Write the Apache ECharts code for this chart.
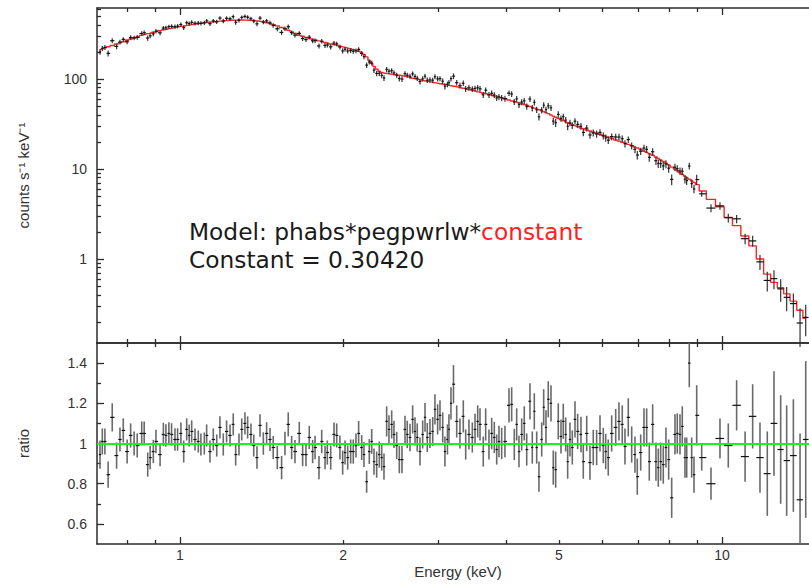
<!DOCTYPE html>
<html>
<head>
<meta charset="utf-8">
<title>phabs*pegpwrlw*constant fit and ratio</title>
<script src="https://cdn.jsdelivr.net/npm/echarts@6/dist/echarts.min.js"></script>
<style>
html, body { margin: 0; padding: 0; background: #fff; }
#chart { width: 809px; height: 586px; }
</style>
</head>
<body>
<div id="chart"></div>
<script>
// bin centres, keV
var energy = [
  0.712, 0.719, 0.727, 0.737, 0.750, 0.764, 0.775, 0.786,
  0.799, 0.811, 0.823, 0.834, 0.850, 0.859, 0.872, 0.881,
  0.893, 0.903, 0.919, 0.932, 0.942, 0.954, 0.965, 0.979,
  0.990, 1.004, 1.016, 1.029, 1.040, 1.051, 1.066, 1.081,
  1.093, 1.109, 1.120, 1.136, 1.152, 1.169, 1.185, 1.202,
  1.219, 1.237, 1.254, 1.267, 1.285, 1.300, 1.318, 1.333,
  1.352, 1.368, 1.387, 1.405, 1.425, 1.445, 1.466, 1.486,
  1.512, 1.540, 1.562, 1.584, 1.607, 1.630, 1.660, 1.684,
  1.708, 1.732, 1.757, 1.775, 1.805, 1.826, 1.852, 1.870,
  1.897, 1.924, 1.946, 1.973, 1.996, 2.016, 2.039, 2.065,
  2.088, 2.112, 2.136, 2.164, 2.185, 2.210, 2.235, 2.258,
  2.280, 2.306, 2.332, 2.356, 2.379, 2.406, 2.430, 2.458,
  2.482, 2.511, 2.539, 2.568, 2.601, 2.626, 2.657, 2.687,
  2.714, 2.740, 2.772, 2.804, 2.832, 2.859, 2.892, 2.926,
  2.954, 2.988, 3.018, 3.053, 3.082, 3.115, 3.135, 3.162,
  3.196,
  3.240, 3.285, 3.332, 3.366, 3.413, 3.462, 3.502, 3.542,
  3.577, 3.627, 3.664, 3.716, 3.759, 3.801, 3.840, 3.877,
  3.922, 3.977, 4.046, 4.092, 4.138, 4.180, 4.221, 4.270,
  4.317, 4.362, 4.423, 4.467, 4.505, 4.551, 4.595, 4.649,
  4.688, 4.734, 4.780, 4.836, 4.883, 4.933, 4.988, 5.046,
  5.095, 5.148, 5.191, 5.242, 5.294, 5.355, 5.416, 5.493,
  5.547, 5.628, 5.707, 5.787, 5.871, 5.955, 6.039, 6.101,
  6.168, 6.258, 6.366, 6.455, 6.546,
  6.622, 6.715, 6.813, 6.909, 6.977, 7.079, 7.179, 7.261,
  7.342, 7.448, 7.553, 7.628, 7.706, 7.792, 7.881, 7.972,
  8.075, 8.189, 8.269, 8.365, 8.447, 8.544, 8.607, 8.702,
  8.791, 8.878, 8.980, 9.173, 9.542, 9.914, 10.27, 10.64,
  11.03, 11.39, 11.75, 12.12, 12.47, 12.83, 13.16, 13.54,
  13.93, 14.27
];

// data / model
var ratio = [
  0.945, 1.01, 1.01, 0.845, 1.13, 0.94, 1.02, 1.065,
  0.96, 1.04, 1.0, 0.99, 1.05, 1.05, 0.895, 0.93,
  0.96, 1.01, 0.945, 1.045, 1.04, 1.05, 1.045, 1.02,
  1.02, 1.05, 0.96, 1.07, 1.04, 1.06, 1.02, 1.01,
  0.995, 1.0, 1.04, 0.96, 1.02, 0.99, 1.08, 0.995,
  1.06, 1.04, 1.095, 0.945, 0.995, 1.07, 1.10, 1.08,
  1.045, 0.99, 0.93, 1.09, 1.0, 1.05, 1.02, 0.98,
  0.93, 0.88, 1.0, 1.095, 0.98, 0.96, 1.05, 0.945,
  0.945, 1.03, 0.96, 0.98, 0.88, 1.01, 0.93, 0.955,
  0.93, 1.045, 1.04, 0.98, 0.905, 0.955, 0.93, 0.96,
  0.96, 0.99, 1.05, 0.98, 0.945, 0.81, 0.96, 1.01,
  0.91, 0.895, 0.945, 0.93, 0.885, 1.11, 1.07, 1.095,
  1.045, 0.99, 0.92, 0.92, 1.07, 1.045, 1.03, 1.12,
  1.06, 1.03, 0.96, 1.045, 1.13, 1.03, 1.05, 1.06,
  1.17, 1.12, 1.14, 1.08, 0.96, 1.02, 1.07, 1.2,
  1.295,
  1.11, 1.05, 1.135, 0.995, 1.045, 1.03, 1.07, 1.11,
  1.095, 0.96, 1.095, 0.995, 1.05, 1.03, 0.97, 1.01,
  1.0, 1.01, 1.19, 1.195, 0.995, 1.095, 0.96, 1.045,
  1.10, 0.97, 1.21, 0.98, 1.16, 0.98, 0.835, 1.02,
  1.18, 1.08, 1.22, 1.2, 0.88, 0.87, 1.11, 1.035,
  1.11, 1.045, 0.91, 1.02, 0.98, 1.12, 1.06, 1.045,
  0.91, 1.05, 0.905, 0.98, 0.98, 1.05, 0.99, 0.96,
  0.93, 1.05, 1.08, 1.11, 1.095,
  0.985, 1.13, 0.995, 0.945, 0.835, 0.955, 1.08, 1.08,
  0.91, 1.095, 0.91, 0.88, 0.91, 0.895, 0.98, 0.92,
  0.73, 1.045, 1.05, 1.045, 1.085, 0.93, 0.93, 1.40,
  0.93, 0.845, 1.14, 0.93, 0.80, 1.025, 0.99, 1.19,
  0.935, 1.135, 0.93, 0.85, 1.10, 0.97, 0.915, 0.94,
  0.72, 1.02
];

// 1 sigma on the ratio
var ratioErr = [
  0.07, 0.065, 0.065, 0.065, 0.07, 0.065, 0.06, 0.06,
  0.06, 0.06, 0.06, 0.06, 0.06, 0.06, 0.06, 0.058,
  0.058, 0.058, 0.058, 0.058, 0.056, 0.056, 0.056, 0.056,
  0.056, 0.055, 0.055, 0.055, 0.055, 0.055, 0.055, 0.055,
  0.055, 0.055, 0.055, 0.055, 0.055, 0.055, 0.055, 0.055,
  0.055, 0.055, 0.055, 0.055, 0.055, 0.055, 0.055, 0.055,
  0.055, 0.055, 0.056, 0.056, 0.056, 0.056, 0.057, 0.057,
  0.058, 0.058, 0.058, 0.06, 0.058, 0.058, 0.058, 0.058,
  0.058, 0.058, 0.058, 0.058, 0.058, 0.058, 0.058, 0.06,
  0.06, 0.06, 0.06, 0.06, 0.06, 0.06, 0.06, 0.06,
  0.06, 0.06, 0.062, 0.062, 0.062, 0.055, 0.062, 0.062,
  0.065, 0.065, 0.065, 0.065, 0.065, 0.075, 0.07, 0.07,
  0.068, 0.068, 0.068, 0.068, 0.068, 0.068, 0.068, 0.07,
  0.07, 0.07, 0.07, 0.07, 0.072, 0.072, 0.072, 0.072,
  0.075, 0.075, 0.075, 0.075, 0.075, 0.075, 0.075, 0.08,
  0.095,
  0.08, 0.075, 0.08, 0.075, 0.075, 0.075, 0.078, 0.08,
  0.08, 0.075, 0.08, 0.075, 0.078, 0.078, 0.075, 0.078,
  0.078, 0.078, 0.085, 0.085, 0.078, 0.08, 0.078, 0.08,
  0.085, 0.08, 0.09, 0.08, 0.09, 0.08, 0.075, 0.085,
  0.09, 0.085, 0.09, 0.09, 0.085, 0.09, 0.09, 0.085,
  0.088, 0.085, 0.085, 0.085, 0.085, 0.09, 0.088, 0.088,
  0.085, 0.088, 0.085, 0.088, 0.088, 0.09, 0.088, 0.088,
  0.09, 0.09, 0.092, 0.095, 0.095,
  0.09, 0.095, 0.09, 0.09, 0.09, 0.09, 0.095, 0.095,
  0.095, 0.1, 0.095, 0.095, 0.095, 0.095, 0.1, 0.1,
  0.1, 0.1, 0.1, 0.1, 0.1, 0.1, 0.1, 0.12,
  0.1, 0.09, 0.15, 0.065, 0.08, 0.1, 0.11, 0.125,
  0.125, 0.16, 0.175, 0.21, 0.26, 0.27, 0.275, 0.28,
  0.33, 0.39
];

// folded model, counts s^-1 keV^-1
var model = [
  212, 217, 222, 228, 236, 245, 252, 259,
  270, 278, 286, 293, 305, 311, 319, 324,
  331, 337, 345, 352, 357, 363, 368, 374,
  379, 384, 388, 394, 398, 402, 408, 413,
  417, 422, 425, 429, 433, 437, 440, 443,
  446, 449, 450, 451, 452, 452, 451, 450,
  448, 445, 441, 436, 429, 421, 412, 402,
  389, 374, 362, 348, 334, 320, 306, 298,
  290, 283, 277, 272, 265, 260, 254, 250,
  245, 240, 236, 231, 227, 224, 220, 216,
  212, 208, 203, 196, 188, 176, 161, 149,
  138, 129, 122, 118, 116, 115, 114, 113,
  112, 111, 110, 108.5, 107, 105.5, 104, 102,
  100.5, 99, 97.5, 96, 95, 94, 93, 91.5,
  90.5, 89.5, 88.5, 87.5, 86.5, 85.5, 85, 84,
  83,
  82, 80.5, 79, 78, 76.5, 75, 73.5, 72,
  71, 69.5, 68.5, 67, 66, 64.5, 63.5, 62.5,
  61.5, 60, 58.5, 57, 56, 55, 54, 53,
  52, 51, 49.5, 48.5, 47.5, 46.5, 45.5, 44.3,
  43.3, 42.2, 41.2, 39.8, 38.7, 37.6, 36.4, 35.2,
  34.3, 33.4, 32.7, 31.9, 31.1, 30.3, 29.5, 28.6,
  28, 27.1, 26.4, 25.7, 25, 24.3, 23.6, 23.1,
  22.5, 21.8, 21, 20.4, 19.8,
  19.4, 18.8, 18.2, 17.5, 17.1, 16.5, 15.8, 15.3,
  14.8, 14.2, 13.6, 13.1, 12.6, 12.1, 11.6, 11.1,
  10.5, 10.0, 9.6, 9.1, 8.7, 8.3, 8.0, 7.7,
  7.4, 7.1, 6.7, 5.7, 4.6, 3.8, 2.9, 2.35,
  1.8, 1.4, 1.0, 0.68, 0.55, 0.48, 0.41, 0.34,
  0.27, 0.22
];

// axis ticks and labels
var xMajorTicks = [1, 10];
var xMinorTicks = [0.8, 0.9, 2, 3, 4, 5, 6, 7, 8, 9];
var xTickLabels = [1, 2, 5, 10];
var countMajorTicks = [1, 10, 100];
var countMinorTicks = [0.2, 0.3, 0.4, 0.5, 0.6, 0.7, 0.8, 0.9,
  2, 3, 4, 5, 6, 7, 8, 9, 20, 30, 40, 50, 60, 70, 80, 90,
  200, 300, 400, 500, 600];
var ratioMajorTicks = [0.6, 0.8, 1, 1.2, 1.4];
var ratioMinorTicks = [0.7, 0.9, 1.1, 1.3];

if (ratio.length !== energy.length || ratioErr.length !== energy.length || model.length !== energy.length) {
  throw new Error('array length mismatch ' + [energy.length, ratio.length, ratioErr.length, model.length]);
}

var X_MIN = 0.703, X_MAX = 14.47;
var AXIS_COLOR = '#2b2b2b';
var FONT = 'Liberation Sans, Arial, Helvetica, sans-serif';

// bin edges half way (in log) between neighbouring centres
var n = energy.length;
var binLo = [], binHi = [];
for (var i = 0; i < n; i++) {
  var prev = i > 0 ? energy[i - 1] : energy[i] * energy[i] / energy[i + 1];
  var next = i < n - 1 ? energy[i + 1] : energy[i] * energy[i] / energy[i - 1];
  binLo.push(Math.sqrt(prev * energy[i]));
  binHi.push(Math.sqrt(energy[i] * next));
}

var countsData = [], ratioData = [], modelData = [];
for (var j = 0; j < n; j++) {
  countsData.push([energy[j], ratio[j] * model[j], binLo[j], binHi[j], ratioErr[j] * model[j]]);
  ratioData.push([energy[j], ratio[j], binLo[j], binHi[j], ratioErr[j]]);
  modelData.push([energy[j], model[j]]);
}

function crossRenderer(vColor, vWidth) {
  return function (params, api) {
    var e = api.value(0), v = api.value(1), err = api.value(4);
    var c = api.coord([e, v]);
    var left = api.coord([api.value(2), v])[0];
    var right = api.coord([api.value(3), v])[0];
    var top = api.coord([e, v + err])[1];
    var bottom = api.coord([e, v - err])[1];
    return {
      type: 'group',
      children: [
        {type: 'line', shape: {x1: c[0], y1: top, x2: c[0], y2: bottom},
          style: {stroke: vColor, lineWidth: vWidth}},
        {type: 'line', shape: {x1: left, y1: c[1], x2: right, y2: c[1]},
          style: {stroke: '#111', lineWidth: 1.2}}
      ]
    };
  };
}

function xAxis(grid, position, ticks, length, showLine, extra) {
  var ax = {
    type: 'log', gridIndex: grid, position: position, min: X_MIN, max: X_MAX,
    axisLine: {show: showLine, onZero: false, lineStyle: {color: AXIS_COLOR, width: 1.5}},
    axisTick: {show: true, inside: true, length: length, customValues: ticks,
      lineStyle: {color: AXIS_COLOR, width: 1.3}},
    axisLabel: {show: false},
    splitLine: {show: false}
  };
  return Object.assign(ax, extra || {});
}

function yAxis(grid, type, min, max, ticks, length, showLine, extra) {
  var ax = {
    type: type, gridIndex: grid, position: 'left', min: min, max: max,
    axisLine: {show: showLine, lineStyle: {color: AXIS_COLOR, width: 1.5}},
    axisTick: {show: true, inside: true, length: length, customValues: ticks,
      lineStyle: {color: AXIS_COLOR, width: 1.3}},
    axisLabel: {show: false},
    splitLine: {show: false}
  };
  return Object.assign(ax, extra || {});
}

var tickLabel = {fontSize: 14, color: '#333', fontFamily: FONT};
var nameStyle = {fontSize: 15, color: '#333', fontFamily: FONT};
var NOTE_FONT = 'DejaVu Sans, sans-serif';

var chart = echarts.init(document.getElementById('chart'), null, {renderer: 'svg'});
chart.setOption({
  animation: false,
  backgroundColor: '#fff',
  grid: [
    {left: 97, top: 8, right: 0, height: 335},
    {left: 97, top: 343, right: 0, height: 201}
  ],
  xAxis: [
    xAxis(0, 'bottom', xMajorTicks, 7, true),
    xAxis(0, 'bottom', xMinorTicks, 4, false),
    xAxis(0, 'top', xMajorTicks, 7, true),
    xAxis(0, 'top', xMinorTicks, 4, false),
    xAxis(1, 'bottom', xMajorTicks, 7, true, {
      axisLabel: Object.assign({show: true, customValues: xTickLabels, margin: 4}, tickLabel),
      name: 'Energy (keV)', nameLocation: 'middle', nameGap: 20,
      nameTextStyle: Object.assign({padding: [0, 0, 0, 10]}, nameStyle)
    }),
    xAxis(1, 'bottom', xMinorTicks, 4, false),
    xAxis(1, 'top', xMajorTicks, 7, true),
    xAxis(1, 'top', xMinorTicks, 4, false)
  ],
  yAxis: [
    yAxis(0, 'log', 0.1166, 615, countMajorTicks, 7, true, {
      axisLabel: Object.assign({show: true, customValues: countMajorTicks, margin: 10}, tickLabel),
      name: 'counts s⁻¹ keV⁻¹', nameLocation: 'middle', nameGap: 66, nameTextStyle: nameStyle
    }),
    yAxis(0, 'log', 0.1166, 615, countMinorTicks, 4, false),
    yAxis(1, 'value', 0.5, 1.5, ratioMajorTicks, 7, true, {
      axisLabel: Object.assign({show: true, customValues: ratioMajorTicks, margin: 10}, tickLabel),
      name: 'ratio', nameLocation: 'middle', nameGap: 66, nameTextStyle: nameStyle
    }),
    yAxis(1, 'value', 0.5, 1.5, ratioMinorTicks, 4, false)
  ],
  series: [
    {
      type: 'line', name: 'model', xAxisIndex: 0, yAxisIndex: 0,
      data: modelData, step: 'middle', symbol: 'none', silent: true,
      lineStyle: {color: '#ff2424', width: 1.4}, z: 2
    },
    {
      type: 'custom', name: 'spectrum', xAxisIndex: 0, yAxisIndex: 0,
      data: countsData, encode: {x: 0, y: 1}, renderItem: crossRenderer('#333', 1.2),
      silent: true, z: 3
    },
    {
      type: 'custom', name: 'ratio', xAxisIndex: 4, yAxisIndex: 2,
      data: ratioData, encode: {x: 0, y: 1}, renderItem: crossRenderer('#6a6a6a', 1.6),
      clip: true, silent: true, z: 3,
      markLine: {
        silent: true, symbol: 'none', label: {show: false}, z: 5,
        lineStyle: {color: '#1fef1f', width: 2, type: 'solid'},
        data: [{yAxis: 1}]
      }
    }
  ],
  graphic: [{
    type: 'text', left: 189, top: 220, silent: true,
    style: {
      text: '{k|Model: phabs*pegpwrlw*}{r|constant}\n{k|Constant = 0.30420}',
      rich: {
        k: {fontSize: 23.3, lineHeight: 27.5, fontFamily: NOTE_FONT, fill: '#1a1a1a'},
        r: {fontSize: 23.3, lineHeight: 27.5, fontFamily: NOTE_FONT, fill: '#ff2020'}
      }
    }
  }]
});
</script>
</body>
</html>
